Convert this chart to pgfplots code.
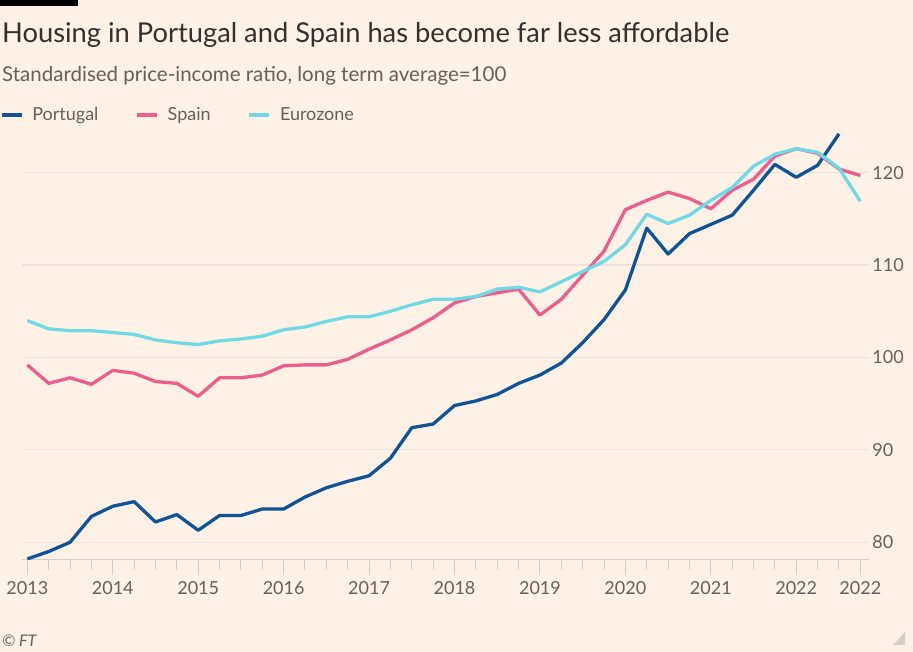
\documentclass[border=0pt]{standalone}
\usepackage{pgfplots}
\pgfplotsset{compat=1.18}
\usepackage{fontspec}
\setmainfont{Lato}
\definecolor{ftbg}{HTML}{FFF1E5}
\definecolor{ftgrid}{HTML}{EDE3DA}
\definecolor{ftaxis}{HTML}{D6CDC4}
\definecolor{fttext}{HTML}{66605C}
\definecolor{fttitle}{HTML}{33302E}
\definecolor{ptcol}{HTML}{0F5499}
\definecolor{escol}{HTML}{EB5E8D}
\definecolor{ezcol}{HTML}{6FDAE6}
\begin{document}
\begin{tikzpicture}
\path[use as bounding box, fill=ftbg] (0,0) rectangle (913pt,652pt);
\fill[black] (0,652pt) rectangle (78pt,646pt);
\node[anchor=base west, inner sep=0pt, text=fttitle, font=\fontsize{27.3}{32}\selectfont] at (2pt,609.3pt) {Housing in Portugal and Spain has become far less affordable};
\node[anchor=base west, inner sep=0pt, text=fttext, font=\fontsize{20.5}{24}\selectfont] at (2pt,570.7pt) {Standardised price-income ratio, long term average=100};
\node[anchor=base west, inner sep=0pt, text=fttext, font=\fontsize{16}{18}\itshape] at (2pt,5.3pt) {\textcopyright{} FT};
\fill[ftaxis] (893pt,7pt) -- (905pt,7pt) -- (905pt,20pt) -- cycle;
\begin{axis}[
  at={(21.6pt,92.7pt)}, anchor=south west,
  scale only axis, width=847pt, height=432.8pt,
  xmin=2012.933, xmax=2022.847, ymin=78.16, ymax=125,
  axis x line*=bottom, axis y line*=right,
  x axis line style={-, color=ftaxis, line width=1.2pt},
  y axis line style={draw=none},
  xtick={2013,2014,2015,2016,2017,2018,2019,2020,2021,2022,2022.75},
  xticklabels={2013,2014,2015,2016,2017,2018,2019,2020,2021,2022,2022},
  minor xtick={2013,2013.25,...,2022.8},
  tick align=outside,
  major tick length=15.7pt, minor tick length=10.7pt,
  xtick style={color=ftaxis, line width=1pt},
  minor x tick style={color=ftaxis, line width=1pt},
  ytick={80,90,100,110,120},
  ytick style={draw=none},
  ymajorgrids, grid style={ftgrid, line width=1.2pt},
  /pgf/number format/assume math mode=true,
  ticklabel style={font=\fontsize{18}{20}\selectfont, text=fttext},
  xticklabel style={anchor=north, inner sep=0pt, yshift=-6pt},
  yticklabel style={anchor=west, inner sep=0pt, xshift=-12pt},
  legend style={at={(axis description cs:-0.0255,1.0264)}, anchor=west,
    draw=none, fill=none, inner sep=0pt, outer sep=0pt,
    font=\fontsize{18}{20}\selectfont, text=fttext,
    nodes={inner sep=0pt},
    /tikz/every odd column/.append style={column sep=9pt},
    /tikz/every even column/.append style={column sep=37pt}},
  legend columns=-1,
  legend image code/.code={\draw[#1, line width=3.3pt] (0pt,0pt) -- (20pt,0pt);},
]
\addplot[ptcol, line width=3.3pt, line join=round] coordinates {
(2013,78.2)(2013.25,79.0)(2013.5,80.0)(2013.75,82.8)(2014,83.9)(2014.25,84.4)(2014.5,82.2)(2014.75,83.0)
(2015,81.3)(2015.25,82.9)(2015.5,82.9)(2015.75,83.6)(2016,83.6)(2016.25,84.9)(2016.5,85.9)(2016.75,86.6)
(2017,87.2)(2017.25,89.1)(2017.5,92.4)(2017.75,92.8)(2018,94.8)(2018.25,95.3)(2018.5,96.0)(2018.75,97.2)
(2019,98.1)(2019.25,99.4)(2019.5,101.6)(2019.75,104.1)(2020,107.3)(2020.25,114.0)(2020.5,111.2)(2020.75,113.4)
(2021,114.4)(2021.25,115.4)(2021.5,118.1)(2021.75,120.9)(2022,119.5)(2022.25,120.8)(2022.5,124.2)};
\addlegendentry{Portugal}
\addplot[escol, line width=3.3pt, line join=round] coordinates {
(2013,99.2)(2013.25,97.2)(2013.5,97.8)(2013.75,97.1)(2014,98.6)(2014.25,98.3)(2014.5,97.4)(2014.75,97.2)
(2015,95.8)(2015.25,97.8)(2015.5,97.8)(2015.75,98.1)(2016,99.1)(2016.25,99.2)(2016.5,99.2)(2016.75,99.8)
(2017,100.9)(2017.25,101.9)(2017.5,103.0)(2017.75,104.3)(2018,105.9)(2018.25,106.6)(2018.5,107.0)(2018.75,107.4)
(2019,104.6)(2019.25,106.3)(2019.5,108.9)(2019.75,111.5)(2020,116.0)(2020.25,117.0)(2020.5,117.9)(2020.75,117.2)
(2021,116.1)(2021.25,118.1)(2021.5,119.3)(2021.75,121.8)(2022,122.6)(2022.25,122.1)(2022.5,120.4)(2022.75,119.7)};
\addlegendentry{Spain}
\addplot[ezcol, line width=3.3pt, line join=round] coordinates {
(2013,104.0)(2013.25,103.1)(2013.5,102.9)(2013.75,102.9)(2014,102.7)(2014.25,102.5)(2014.5,101.9)(2014.75,101.6)
(2015,101.4)(2015.25,101.8)(2015.5,102.0)(2015.75,102.3)(2016,103.0)(2016.25,103.3)(2016.5,103.9)(2016.75,104.4)
(2017,104.4)(2017.25,105.0)(2017.5,105.7)(2017.75,106.3)(2018,106.3)(2018.25,106.6)(2018.5,107.4)(2018.75,107.6)
(2019,107.1)(2019.25,108.2)(2019.5,109.3)(2019.75,110.4)(2020,112.2)(2020.25,115.5)(2020.5,114.5)(2020.75,115.4)
(2021,117.0)(2021.25,118.4)(2021.5,120.7)(2021.75,122.0)(2022,122.6)(2022.25,122.2)(2022.5,120.5)(2022.75,116.9)};
\addlegendentry{Eurozone}
\end{axis}
\end{tikzpicture}
\end{document}
